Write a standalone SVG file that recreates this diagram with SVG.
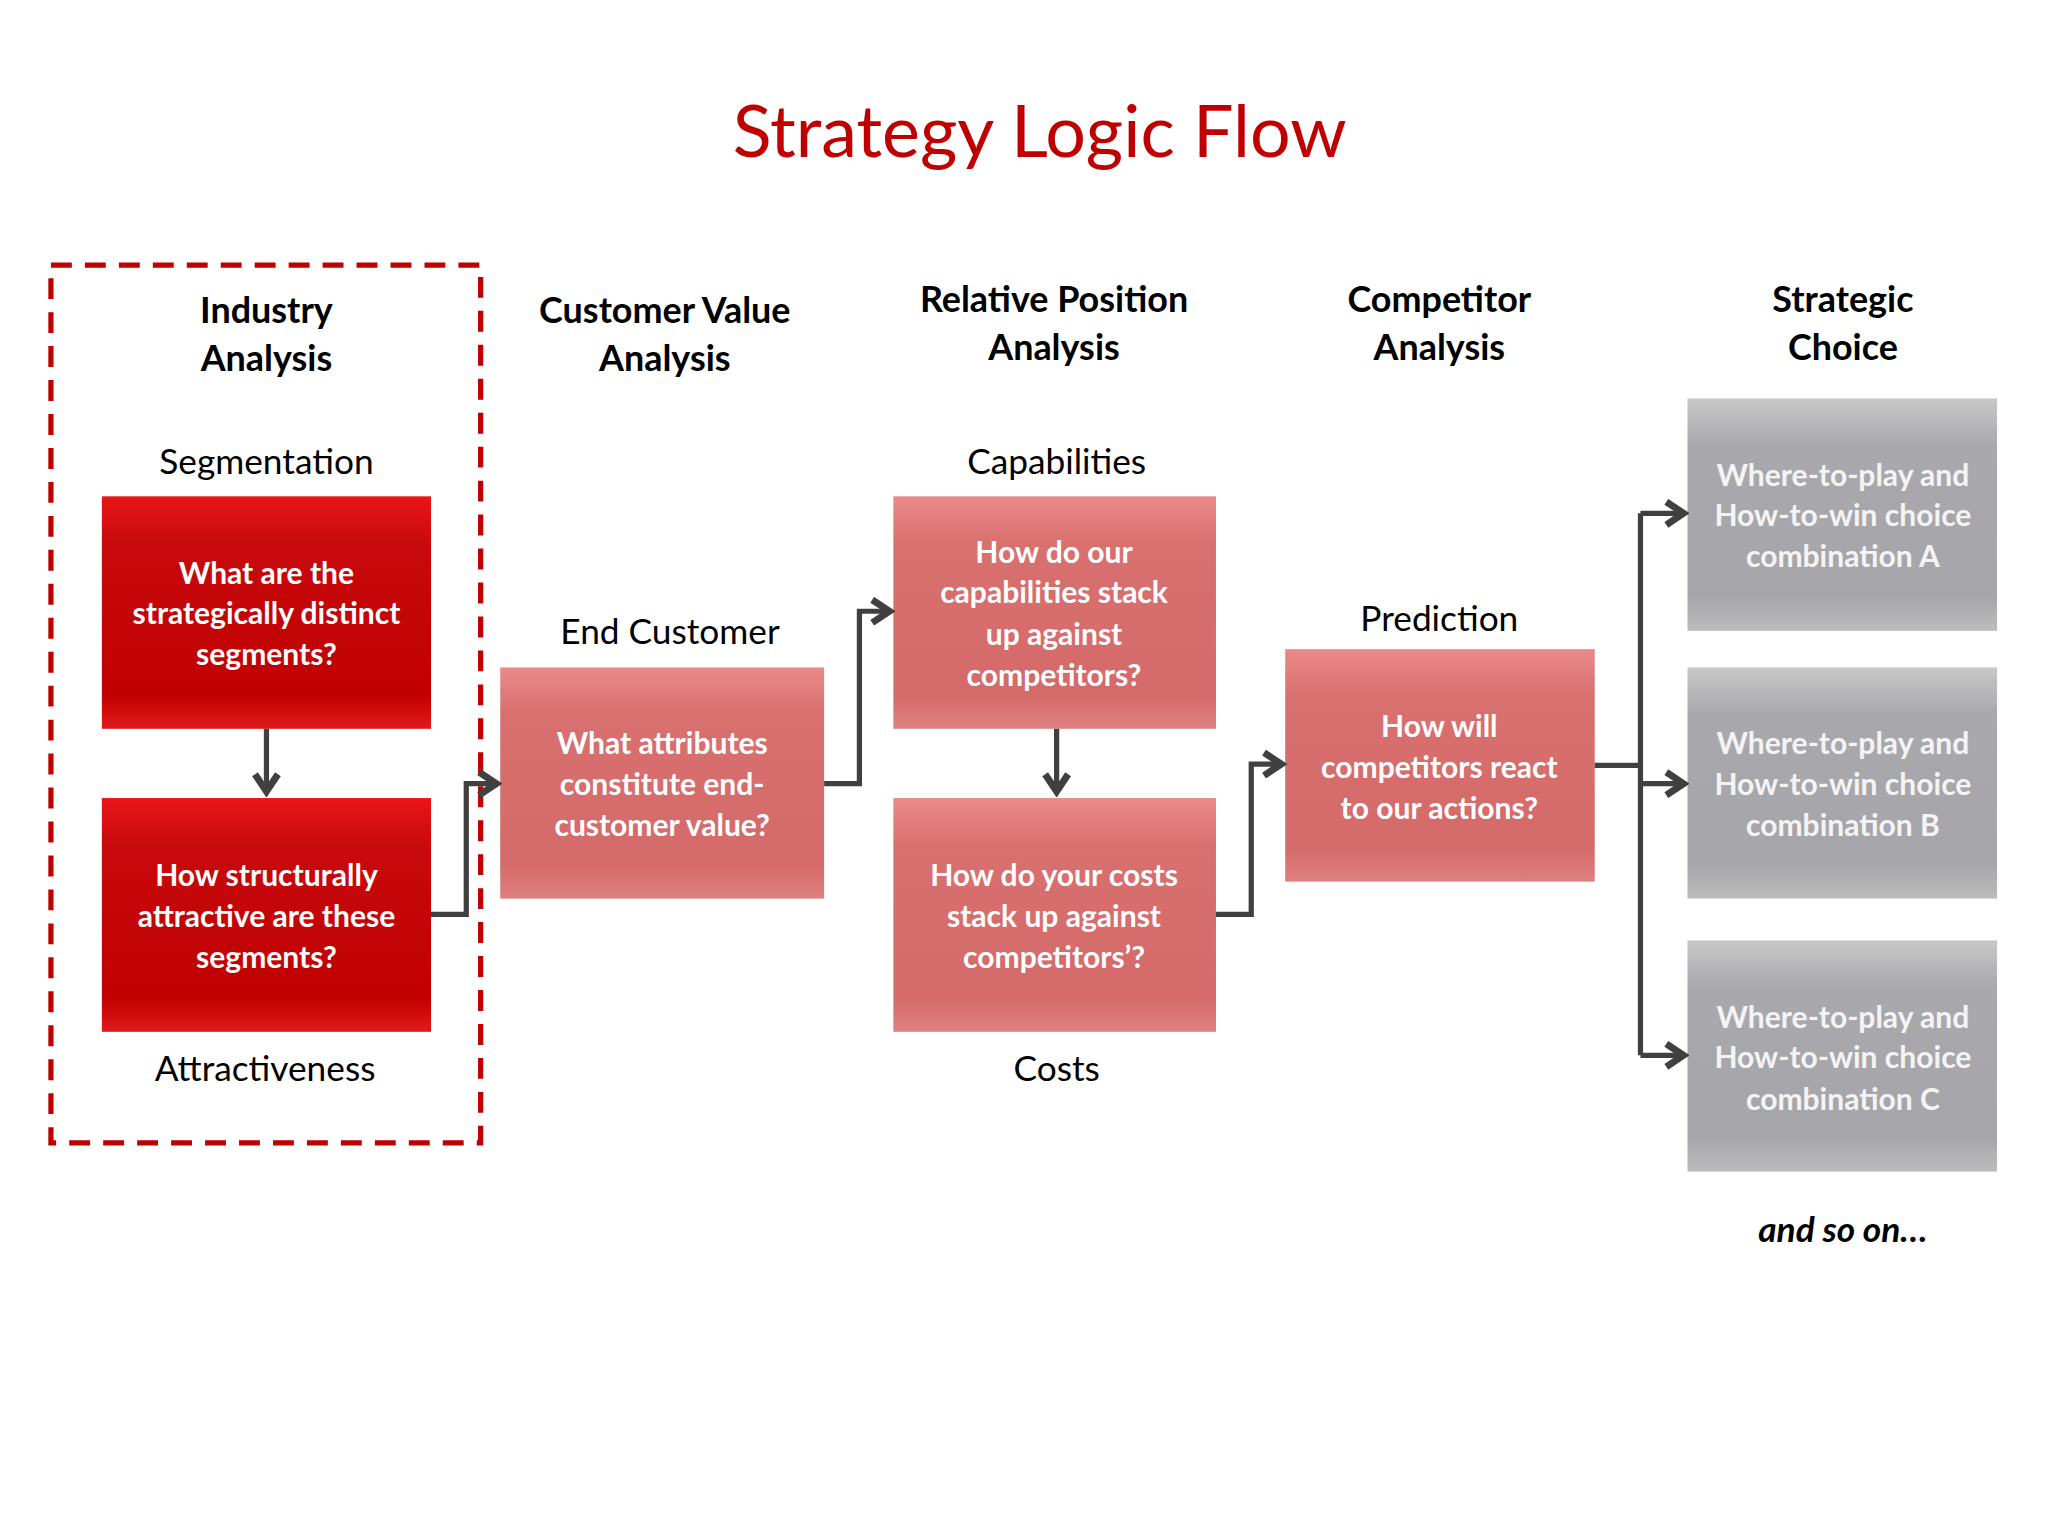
<svg xmlns="http://www.w3.org/2000/svg" width="2048" height="1536" viewBox="0 0 2048 1536">
<defs>
<linearGradient id="red" x1="0" y1="0" x2="0" y2="1"><stop offset="0" stop-color="#e8161a"/><stop offset="0.2" stop-color="#c80a0e"/><stop offset="0.85" stop-color="#c00000"/><stop offset="1" stop-color="#e01a1a"/></linearGradient>
<linearGradient id="pink" x1="0" y1="0" x2="0" y2="1"><stop offset="0" stop-color="#ea8a8a"/><stop offset="0.2" stop-color="#d97070"/><stop offset="0.85" stop-color="#d46a6a"/><stop offset="1" stop-color="#e08080"/></linearGradient>
<linearGradient id="gray" x1="0" y1="0" x2="0" y2="1"><stop offset="0" stop-color="#c8c8c8"/><stop offset="0.2" stop-color="#a9a9ad"/><stop offset="0.85" stop-color="#a6a6aa"/><stop offset="1" stop-color="#bcbcbc"/></linearGradient>
<marker id="arr" viewBox="0 0 10 10" refX="8" refY="5" markerWidth="5.5" markerHeight="5.5" orient="auto" markerUnits="strokeWidth"><polyline points="2,1 8,5 2,9" fill="none" stroke="#404040" stroke-width="2.4"/></marker>
</defs>
<style>
text{font-family:Lato,"Open Sans","Liberation Sans",sans-serif;text-anchor:middle}
.h{font-size:27.5px;font-weight:bold;fill:#000}
.l{font-size:27px;fill:#000}
.b{font-size:23px;font-weight:bold;fill:#fff}
.bg{font-size:23px;font-weight:bold;fill:#f4f4f4}
.c{fill:none;stroke:#404040;stroke-width:4}
</style>
<rect width="2048" height="1536" fill="#fff"/>
<g transform="scale(1.3061)">
<text x="796" y="120" style="font-size:55px;fill:#c00000">Strategy Logic Flow</text>
<rect x="39" y="203" width="329" height="672" fill="none" stroke="#c00000" stroke-width="4" stroke-dasharray="16,10"/>
<g>
<text class="h" x="204" y="247">Industry</text><text class="h" x="204" y="284">Analysis</text>
<text class="h" x="509" y="247">Customer Value</text><text class="h" x="509" y="284">Analysis</text>
<text class="h" x="807" y="239">Relative Position</text><text class="h" x="807" y="276">Analysis</text>
<text class="h" x="1102" y="239">Competitor</text><text class="h" x="1102" y="276">Analysis</text>
<text class="h" x="1411" y="239">Strategic</text><text class="h" x="1411" y="276">Choice</text>
<text class="l" x="204" y="363">Segmentation</text>
<text class="l" x="513" y="493">End Customer</text>
<text class="l" x="809" y="363">Capabilities</text>
<text class="l" x="1102" y="483">Prediction</text>
<text class="l" x="203" y="828">Attractiveness</text>
<text class="l" x="809" y="828">Costs</text>
<text x="1411" y="951" style="font-size:27px;font-weight:bold;font-style:italic">and so on…</text>
</g>
<g id="n1"><rect x="78" y="380" width="252" height="178" fill="url(#red)"/><text class="b" x="204" y="447">What are the</text><text class="b" x="204" y="478">strategically distinct</text><text class="b" x="204" y="509">segments?</text></g>
<g id="n2"><rect x="78" y="611" width="252" height="179" fill="url(#red)"/><text class="b" x="204" y="678">How structurally</text><text class="b" x="204" y="710">attractive are these</text><text class="b" x="204" y="741">segments?</text></g>
<g id="n3"><rect x="383" y="511" width="248" height="177" fill="url(#pink)"/><text class="b" x="507" y="577">What attributes</text><text class="b" x="507" y="609">constitute end-</text><text class="b" x="507" y="640">customer value?</text></g>
<g id="n4"><rect x="684" y="380" width="247" height="178" fill="url(#pink)"/><text class="b" x="807" y="431">How do our</text><text class="b" x="807" y="462">capabilities stack</text><text class="b" x="807" y="494">up against</text><text class="b" x="807" y="525">competitors?</text></g>
<g id="n5"><rect x="684" y="611" width="247" height="179" fill="url(#pink)"/><text class="b" x="807" y="678">How do your costs</text><text class="b" x="807" y="710">stack up against</text><text class="b" x="807" y="741">competitors’?</text></g>
<g id="n6"><rect x="984" y="497" width="237" height="178" fill="url(#pink)"/><text class="b" x="1102" y="564">How will</text><text class="b" x="1102" y="596">competitors react</text><text class="b" x="1102" y="627">to our actions?</text></g>
<g id="n7"><rect x="1292" y="305" width="237" height="178" fill="url(#gray)"/><text class="bg" x="1411" y="372">Where-to-play and</text><text class="bg" x="1411" y="403">How-to-win choice</text><text class="bg" x="1411" y="434">combination A</text></g>
<g id="n8"><rect x="1292" y="511" width="237" height="177" fill="url(#gray)"/><text class="bg" x="1411" y="577">Where-to-play and</text><text class="bg" x="1411" y="609">How-to-win choice</text><text class="bg" x="1411" y="640">combination B</text></g>
<g id="n9"><rect x="1292" y="720" width="237" height="177" fill="url(#gray)"/><text class="bg" x="1411" y="787">Where-to-play and</text><text class="bg" x="1411" y="818">How-to-win choice</text><text class="bg" x="1411" y="850">combination C</text></g>
<g id="connectors">
<path class="c" d="M204,558 V606" marker-end="url(#arr)"/>
<path class="c" d="M330,700 H357 V600 H380" marker-end="url(#arr)"/>
<path class="c" d="M631,600 H658 V468 H681" marker-end="url(#arr)"/>
<path class="c" d="M809,558 V606" marker-end="url(#arr)"/>
<path class="c" d="M931,700 H958 V585 H981" marker-end="url(#arr)"/>
<path class="c" d="M1221,586 H1256"/>
<path class="c" d="M1256,393 V808"/>
<path class="c" d="M1256,393 H1289" marker-end="url(#arr)"/>
<path class="c" d="M1256,600 H1289" marker-end="url(#arr)"/>
<path class="c" d="M1256,808 H1289" marker-end="url(#arr)"/>
</g>
</g>
</svg>
